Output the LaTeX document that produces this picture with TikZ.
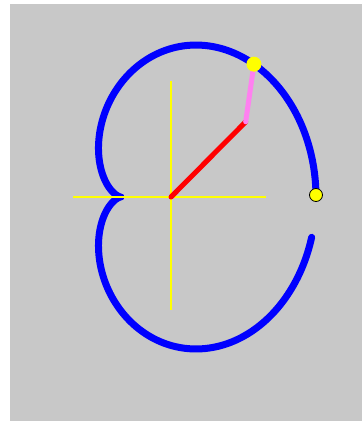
\documentclass[tikz,border=0pt]{standalone}
\definecolor{bg}{RGB}{200,200,200}
\definecolor{pinkarm}{RGB}{255,128,240}
\tikzset{
  curveline/.style={draw={rgb,255:red,0;green,0;blue,255}, line width=7pt, line cap=round, line join=round},
  axisline/.style={draw={rgb,255:red,255;green,255;blue,0}, line width=2pt},
  armred/.style={draw={rgb,255:red,255;green,0;blue,0}, line width=5pt, line cap=round},
  armpink/.style={draw=pinkarm, line width=5pt, line cap=round},
  dot/.style={circle, fill={rgb,255:red,255;green,255;blue,0}, inner sep=0pt, minimum size=15pt}
}
\begin{document}
\begin{tikzpicture}[x=1pt,y=-1pt]
\useasboundingbox (0,0) rectangle (362,421);
\fill[white] (0,0) rectangle (362,421);
\fill[bg] (10,4) rectangle (362,421);
% named points
\coordinate (O) at (171,197);
\coordinate (E) at ({171+97.5*cos(40)},{197-117*sin(40)});
\coordinate (T) at ({171+97.5*cos(40)+47.5*cos(80)},{197-117*sin(40)-58.5*sin(80)});
\coordinate (H1) at (73,197);
\coordinate (H2) at (266,197);
\coordinate (V1) at (171,81);
\coordinate (V2) at (171,310);
% traced curve
\draw[curveline] plot[domain=0:350, samples=240, smooth]
  ({171+97.5*cos(\x)+47.5*cos(2*\x)},{197-117*sin(\x)-58.5*sin(2*\x)});
% axes
\draw[axisline] (H1) -- (H2);
\draw[axisline] (V1) -- (V2);
% arms
\draw[armred] (O) -- (E);
\draw[armpink] (E) -- (T);
% dots
\node[dot] (tip) at (T) {};
\node[dot, draw=black, line width=0.8pt, minimum size=13pt] (start) at (316,195) {};
\end{tikzpicture}
\end{document}
